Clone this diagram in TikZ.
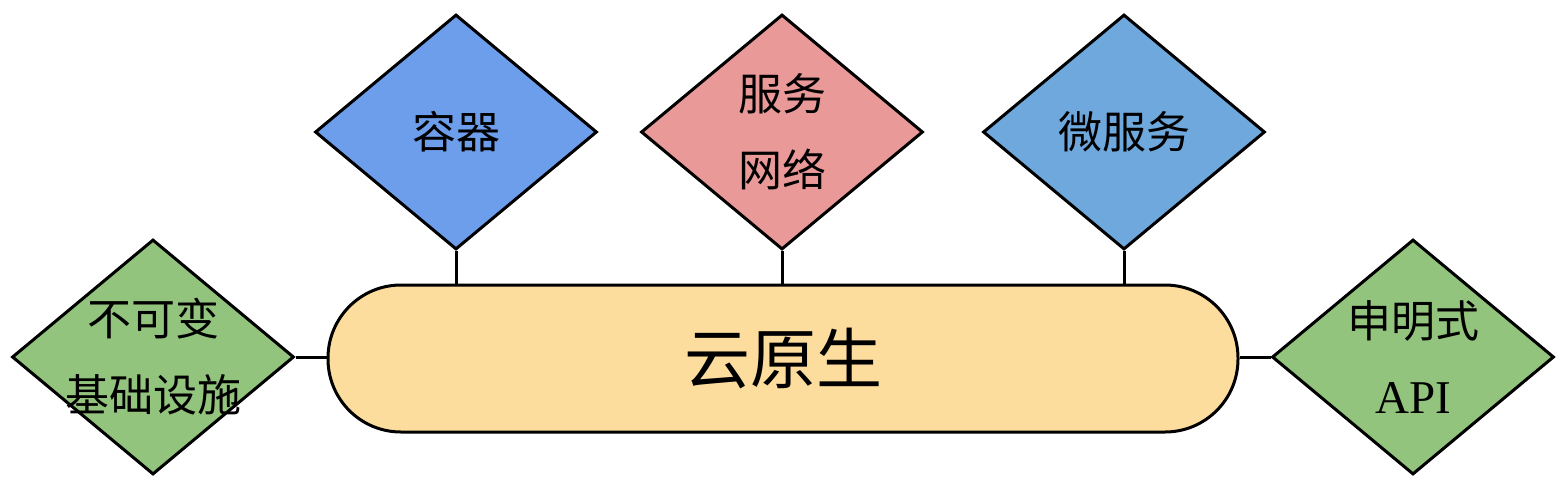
\documentclass[tikz,border=0pt]{standalone}
\usepackage{fontspec}
\setmainfont{Liberation Serif}
\newfontfamily\cjk{Noto Sans CJK SC}
\usetikzlibrary{shapes.geometric}
\definecolor{cblue}{HTML}{6D9EEB}
\definecolor{cpink}{HTML}{EA9999}
\definecolor{clblue}{HTML}{6FA8DC}
\definecolor{cgreen}{HTML}{93C47D}
\definecolor{cyellow}{HTML}{FCDD9D}
\tikzset{
  dia/.style={diamond, draw=black, line width=3pt, minimum width=282pt, minimum height=235pt, inner sep=0pt},
  lbl/.style={font=\fontsize{44}{76}\selectfont, align=center, inner sep=0pt},
  conn/.style={draw=black, line width=3pt},
  core/.style={rectangle, draw=black, line width=3pt, fill=cyellow, minimum width=910pt, minimum height=147pt, rounded corners=73pt, inner sep=0pt, font=\cjk\fontsize{66}{70}\selectfont}
}
\begin{document}
\begin{tikzpicture}[x=1pt,y=-1pt]
\useasboundingbox (0,0) rectangle (1568,488);
\node[core] (core) at (783,358.5) {云原生};
\node[dia, fill=cblue] (d1) at (456,132) {};
\node[lbl] (t1) at (d1.center) {\cjk 容器};
\node[dia, fill=cpink] (d2) at (782,132) {};
\node[lbl] (t2) at (d2.center) {\cjk 服务\\\cjk 网络};
\node[dia, fill=clblue] (d3) at (1124,132) {};
\node[lbl] (t3) at (d3.center) {\cjk 微服务};
\node[dia, fill=cgreen] (d4) at (153,357) {};
\node[lbl] (t4) at (d4.center) {\cjk 不可变\\\cjk 基础设施};
\node[dia, fill=cgreen] (d5) at (1413,357) {};
\node[lbl] (t5) at (d5.center) {\cjk 申明式\\\fontsize{47}{76}\selectfont API};
\draw[conn] (d1.south) -- (d1.south |- core.north);
\draw[conn] (d2.south) -- (d2.south |- core.north);
\draw[conn] (d3.south) -- (d3.south |- core.north);
\draw[conn] (d4.east) -- (d4.east -| core.west);
\draw[conn] (d5.west) -- (d5.west -| core.east);
\end{tikzpicture}
\end{document}
